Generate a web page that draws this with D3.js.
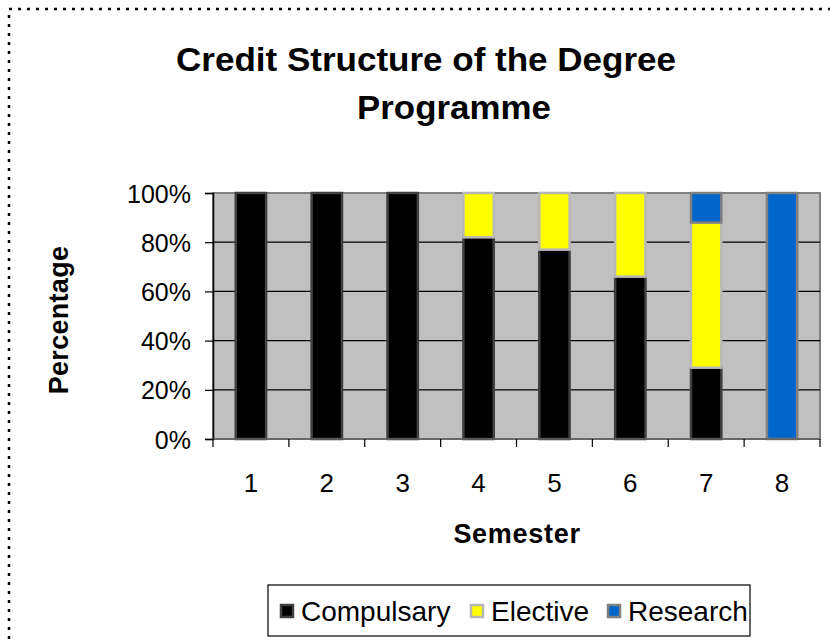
<!DOCTYPE html>
<html>
<head>
<meta charset="utf-8">
<script src="https://cdn.jsdelivr.net/npm/d3@7"></script>
<style>
  body { margin: 0; background: #fff; }
  text { font-family: "Liberation Sans", Arial, sans-serif; }
</style>
</head>
<body>
<div id="chart"></div>
<script>
// data (percent of credits per semester)
var semesters = ["1", "2", "3", "4", "5", "6", "7", "8"];
var compulsary = [100, 100, 100, 82, 77, 66, 29, 0];
var elective = [0, 0, 0, 18, 23, 34, 59, 0];
var research = [0, 0, 0, 0, 0, 0, 12, 100];
var seriesNames = ["Compulsary", "Elective", "Research"];
var yTicks = [0, 20, 40, 60, 80, 100];

var svgWidth = 830;
var svgHeight = 642;

var plot = { left: 213, top: 193, right: 820, bottom: 439 };

var fills = { Compulsary: "#000000", Elective: "#ffff00", Research: "#0066cc" };
var strokes = { Compulsary: "#404040", Elective: "#b8b8b8", Research: "#808080" };

var svg = d3.select("#chart")
  .append("svg")
  .attr("width", svgWidth)
  .attr("height", svgHeight);

// dotted outer frame
svg.append("rect")
  .attr("x", 9)
  .attr("y", 9)
  .attr("width", svgWidth + 20)
  .attr("height", svgHeight + 20)
  .attr("fill", "none")
  .attr("stroke", "#000")
  .attr("stroke-width", 2.5)
  .attr("stroke-dasharray", "3,6");

// title, two lines
var title = svg.append("text")
  .attr("text-anchor", "middle")
  .attr("font-weight", "bold")
  .attr("font-size", 34);
title.append("tspan")
  .attr("x", 426).attr("y", 71)
  .attr("textLength", 500).attr("lengthAdjust", "spacingAndGlyphs")
  .text("Credit Structure of the Degree");
title.append("tspan")
  .attr("x", 454).attr("y", 119)
  .attr("textLength", 194).attr("lengthAdjust", "spacingAndGlyphs")
  .text("Programme");

// table for the stack
var table = semesters.map(function(s, i) {
  return { semester: s, Compulsary: compulsary[i], Elective: elective[i], Research: research[i] };
});
var stacked = d3.stack().keys(seriesNames)(table);

var x = d3.scaleBand()
  .domain(semesters)
  .range([plot.left, plot.right])
  .paddingInner(0.6)
  .paddingOuter(0.3);

var xBand = d3.scaleBand()
  .domain(semesters)
  .range([plot.left, plot.right]);

var y = d3.scaleLinear()
  .domain([0, 100])
  .range([plot.bottom, plot.top]);

// plot area
svg.append("rect")
  .attr("x", plot.left)
  .attr("y", plot.top)
  .attr("width", plot.right - plot.left)
  .attr("height", plot.bottom - plot.top)
  .attr("fill", "#c0c0c0")
  .attr("stroke", "#808080")
  .attr("stroke-width", 2);

// gridlines
svg.append("g")
  .selectAll("line")
  .data(yTicks.filter(function(d) { return d > 0 && d < 100; }))
  .enter()
  .append("line")
  .attr("x1", plot.left)
  .attr("x2", plot.right)
  .attr("y1", function(d) { return y(d); })
  .attr("y2", function(d) { return y(d); })
  .attr("stroke", "#000")
  .attr("stroke-width", 1.2);

// bars
svg.append("g")
  .selectAll("g")
  .data(stacked)
  .enter()
  .append("g")
  .attr("fill", function(d) { return fills[d.key]; })
  .attr("stroke", function(d) { return strokes[d.key]; })
  .selectAll("rect")
  .data(function(d) { return d.filter(function(p) { return p[1] > p[0]; }); })
  .enter()
  .append("rect")
  .attr("x", function(d) { return x(d.data.semester); })
  .attr("y", function(d) { return y(d[1]); })
  .attr("width", x.bandwidth())
  .attr("height", function(d) { return y(d[0]) - y(d[1]); })
  .attr("stroke-width", 2.5);

// y axis
var yAxis = svg.append("g")
  .attr("transform", "translate(" + plot.left + ",0)")
  .call(d3.axisLeft(y).tickValues(yTicks).tickSize(8).tickPadding(14)
    .tickFormat(function(d) { return d + "%"; }));
yAxis.select(".domain").attr("stroke", "#000").attr("stroke-width", 1.5);
yAxis.selectAll(".tick line").attr("stroke", "#000").attr("stroke-width", 1.2);
yAxis.selectAll("text")
  .attr("font-size", 25)
  .attr("fill", "#000")
  .attr("dy", "0.36em")
  .style("font-family", "'Liberation Sans', Arial, sans-serif");

// x axis: ticks on band edges, labels in the band middles
var xAxis = svg.append("g")
  .attr("transform", "translate(0," + plot.bottom + ")");
xAxis.append("line")
  .attr("x1", plot.left)
  .attr("x2", plot.right)
  .attr("stroke", "#606060")
  .attr("stroke-width", 1.5);
xAxis.selectAll(".xtick")
  .data(semesters.concat(["end"]))
  .enter()
  .append("line")
  .attr("class", "xtick")
  .attr("x1", function(d) { return d === "end" ? plot.right : xBand(d); })
  .attr("x2", function(d) { return d === "end" ? plot.right : xBand(d); })
  .attr("y1", 0)
  .attr("y2", 8)
  .attr("stroke", "#000")
  .attr("stroke-width", 1.2);
xAxis.selectAll(".xlabel")
  .data(semesters)
  .enter()
  .append("text")
  .attr("class", "xlabel")
  .attr("x", function(d) { return xBand(d) + xBand.bandwidth() / 2; })
  .attr("y", 53)
  .attr("text-anchor", "middle")
  .attr("font-size", 26)
  .text(function(d) { return d; });

// axis titles
svg.append("text")
  .attr("x", 517)
  .attr("y", 543)
  .attr("text-anchor", "middle")
  .attr("font-weight", "bold")
  .attr("font-size", 27)
  .attr("letter-spacing", 0.7)
  .text("Semester");

svg.append("text")
  .attr("transform", "translate(68,320) rotate(-90)")
  .attr("text-anchor", "middle")
  .attr("font-weight", "bold")
  .attr("font-size", 27)
  .attr("letter-spacing", 0.3)
  .text("Percentage");

// legend
var legend = svg.append("g");
legend.append("rect")
  .attr("x", 268)
  .attr("y", 585)
  .attr("width", 482)
  .attr("height", 51)
  .attr("fill", "#fff")
  .attr("stroke", "#000")
  .attr("stroke-width", 1.2);

var legendX = [281, 471, 608];
var item = legend.selectAll(".item")
  .data(seriesNames)
  .enter()
  .append("g")
  .attr("class", "item")
  .attr("transform", function(d, i) { return "translate(" + legendX[i] + ",611)"; });
item.append("rect")
  .attr("x", 0)
  .attr("y", -6)
  .attr("width", 12)
  .attr("height", 12)
  .attr("fill", function(d) { return fills[d]; })
  .attr("stroke", function(d) { return strokes[d]; })
  .attr("stroke-width", 2.5);
item.append("text")
  .attr("x", 20)
  .attr("y", 10)
  .attr("font-size", 28)
  .text(function(d) { return d; });
</script>
</body>
</html>
